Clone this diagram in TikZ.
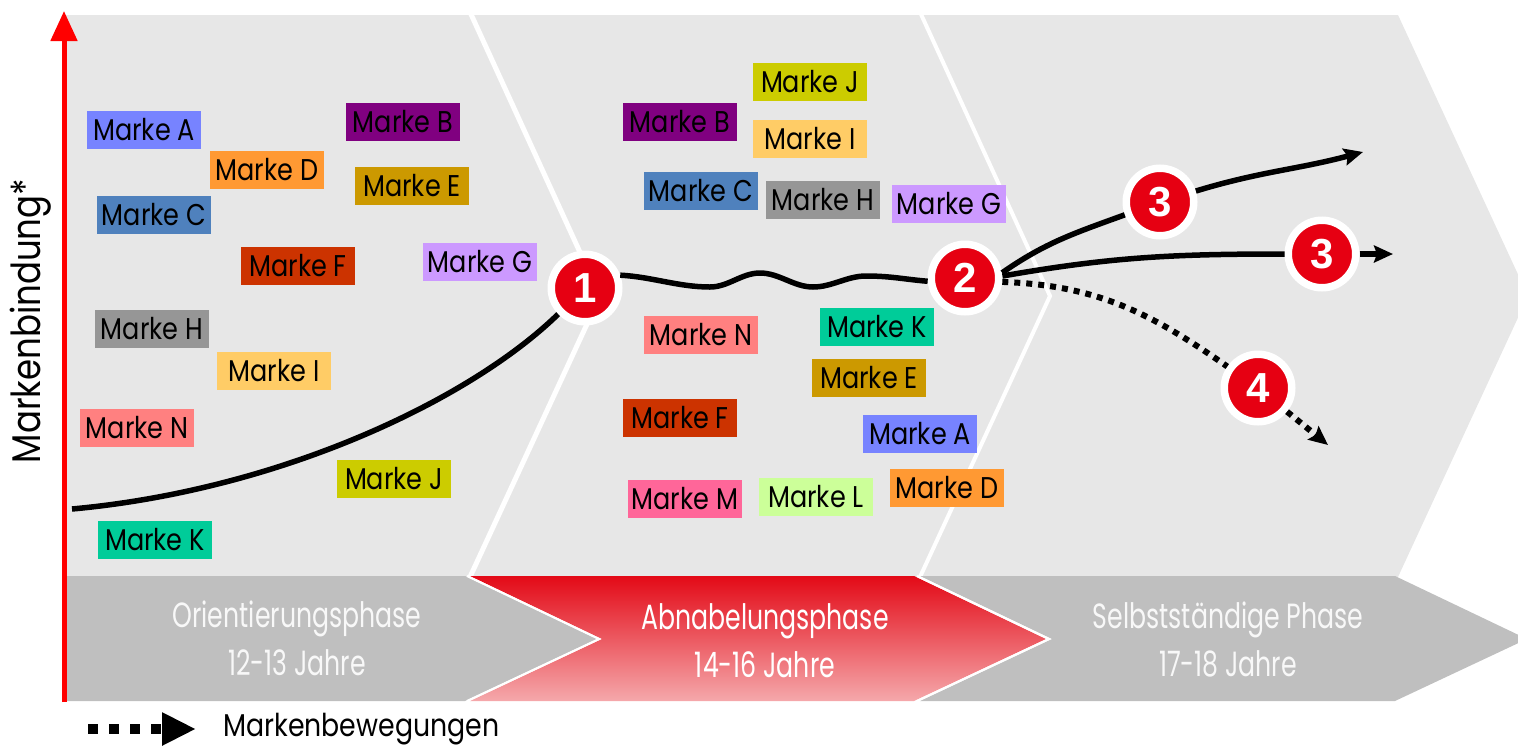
\documentclass[tikz,border=0pt]{standalone}
\usepackage{fontspec}
\setmainfont{Poppins}[FakeStretch=0.85]
\newfontfamily\phasefont{Poppins}[FakeStretch=0.72]
\newfontfamily\numfont{Liberation Sans}
\usetikzlibrary{arrows.meta}
\definecolor{cA}{HTML}{7783FF}
\definecolor{cB}{HTML}{800080}
\definecolor{cC}{HTML}{4F81BD}
\definecolor{cD}{HTML}{FF9933}
\definecolor{cE}{HTML}{CC9900}
\definecolor{cF}{HTML}{CC3300}
\definecolor{cG}{HTML}{CC99FF}
\definecolor{cH}{HTML}{969696}
\definecolor{cI}{HTML}{FFCC66}
\definecolor{cJ}{HTML}{CCCC00}
\definecolor{cK}{HTML}{00CC99}
\definecolor{cL}{HTML}{CCFF99}
\definecolor{cM}{HTML}{FF6699}
\definecolor{cN}{HTML}{FF8080}
\definecolor{circRed}{HTML}{E60012}
\definecolor{axisRed}{HTML}{FF0000}
\definecolor{bgGrey}{HTML}{E7E7E7}
\definecolor{barGrey}{HTML}{BFBFBF}
\definecolor{gradTop}{HTML}{E30A17}
\definecolor{gradBot}{HTML}{F5A8AB}
\definecolor{phaseText}{HTML}{F8F8F8}
\tikzset{
  marke/.style={minimum width=114pt, minimum height=38pt, inner sep=0pt,
    text=black, font=\fontsize{30}{32}\selectfont},
  circ/.style={circle, fill=circRed, draw=white, line width=7.5pt,
    minimum size=67.5pt, inner sep=0pt, text=white,
    font=\numfont\bfseries\fontsize{42}{42}\selectfont},
  curve/.style={line width=5.5pt, black},
  dotline/.style={line width=6pt, black, dash pattern=on 6pt off 6pt},
  tipend/.style={-{Stealth[length=19pt,width=17pt,inset=3pt]}},
  phase/.style={align=center, text=phaseText,
    font=\phasefont\fontsize{35}{48}\selectfont},
}
\begin{document}
\begin{tikzpicture}[x=1pt,y=1pt]
\useasboundingbox (0,0) rectangle (1518,-750);
% grey background chevrons
\fill[bgGrey] (62,-15) -- (1398,-15) -- (1528,-296) -- (1398,-577) -- (62,-577) -- cycle;
\draw[white, line width=5pt] (470,-12) -- (600,-296) -- (470,-577);
\draw[white, line width=4pt] (920,-12) -- (1050,-296) -- (920,-577);
% bottom bar
\fill[barGrey] (62,-576) -- (465,-576) -- (597,-639) -- (465,-701) -- (62,-701) -- cycle;
\shade[top color=gradTop, bottom color=gradBot] (470,-576) -- (914,-576) -- (1046,-639) -- (914,-701) -- (470,-701) -- (602,-639) -- cycle;
\fill[barGrey] (920,-576) -- (1395,-576) -- (1527,-639) -- (1395,-701) -- (920,-701) -- (1052,-639) -- cycle;
\draw[white, line width=2pt] (467,-576) -- (599,-639) -- (467,-701);
\draw[white, line width=2pt] (917,-576) -- (1049,-639) -- (917,-701);
\node[phase] (p1) at (297,-638) {Orientierungsphase\\12-13 Jahre};
\node[phase, text=white] (p2) at (765,-641) {Abnabelungsphase\\14-16 Jahre};
\node[phase] (p3) at (1228,-640) {Selbstständige Phase\\17-18 Jahre};
% axis
\coordinate (ax0) at (64,-702);
\coordinate (ax1) at (64,-11);
\draw[axisRed, line width=5pt, -{Triangle[length=30pt,width=26pt]}] (ax0) -- (ax1);
\node[rotate=90, font=\fontsize{40}{42}\selectfont] (ylab) at (31,-321) {Markenbindung*};
% brand boxes, left phase
\node[marke, fill=cA] (lA) at (144,-130) {Marke A};
\node[marke, fill=cB] (lB) at (403,-122) {Marke B};
\node[marke, fill=cD] (lD) at (267,-170) {Marke D};
\node[marke, fill=cE] (lE) at (412,-186) {Marke E};
\node[marke, fill=cC] (lC) at (154,-215) {Marke C};
\node[marke, fill=cF] (lF) at (298,-266) {Marke F};
\node[marke, fill=cG] (lG) at (480,-262) {Marke G};
\node[marke, fill=cH] (lH) at (152,-329) {Marke H};
\node[marke, fill=cI] (lI) at (274,-371) {Marke I};
\node[marke, fill=cN] (lN) at (137,-428) {Marke N};
\node[marke, fill=cJ] (lJ) at (394,-479) {Marke J};
\node[marke, fill=cK] (lK) at (155,-540) {Marke K};
% brand boxes, middle phase
\node[marke, fill=cJ] (mJ) at (810,-82) {Marke J};
\node[marke, fill=cB] (mB) at (680,-122) {Marke B};
\node[marke, fill=cI] (mI) at (810,-139) {Marke I};
\node[marke, fill=cC] (mC) at (701,-191) {Marke C};
\node[marke, fill=cH] (mH) at (823,-200) {Marke H};
\node[marke, fill=cG] (mG) at (949,-204) {Marke G};
\node[marke, fill=cN] (mN) at (701,-335) {Marke N};
\node[marke, fill=cK] (mK) at (877,-327) {Marke K};
\node[marke, fill=cE] (mE) at (869,-378) {Marke E};
\node[marke, fill=cF] (mF) at (680,-418) {Marke F};
\node[marke, fill=cA] (mA) at (920,-434) {Marke A};
\node[marke, fill=cD] (mD) at (947,-488) {Marke D};
\node[marke, fill=cM] (mM) at (685,-499) {Marke M};
\node[marke, fill=cL] (mL) at (816,-497) {Marke L};
% milestone circles
\node[circ] (c1) at (585,-288) {1};
\node[circ] (c2) at (965,-278) {2};
\node[circ] (c3a) at (1160,-202) {3};
\node[circ] (c3b) at (1322,-254) {3};
\node[circ] (c4) at (1258,-388) {4};
% coordinates
\coordinate (s0) at (72,-509);
\coordinate (w1) at (710,-287);
\coordinate (w2) at (760,-273);
\coordinate (w3) at (813,-287);
\coordinate (w4) at (866,-276);
\coordinate (e1) at (1363,-152);
\coordinate (e2) at (1393,-254);
\coordinate (e3) at (1328,-445);
% curves
\draw[curve] (s0) .. controls (280,-490) and (470,-400) .. (c1);
\draw[curve] (c1.20) to[out=-3,in=180,looseness=0.9] (w1) to[out=0,in=180,looseness=0.9] (w2) to[out=0,in=180,looseness=0.9] (w3) to[out=0,in=180,looseness=0.9] (w4) to[out=0,in=175] (c2.185);
\draw[curve] (c2.8) to[out=35,in=200] (c3a);
\draw[curve, tipend] (c3a) to[out=17,in=195] (e1);
\draw[curve] (c2.3) to[out=10,in=180] (c3b);
\draw[curve, tipend] (c3b) -- (e2);
\draw[dotline] (c2.-6) to[out=-2,in=145] (c4);
\draw[dotline, tipend] (c4) -- (e3);
% legend
\coordinate (l1) at (88,-729);
\coordinate (l2) at (196,-729);
\draw[line width=10pt, dash pattern=on 10pt off 11pt, -{Triangle[length=34pt,width=31pt]}] (l1) -- (l2);
\node[anchor=west, font=\fontsize{31.5}{33}\selectfont, inner sep=0pt] (legtext) at (223,-729) {Markenbewegungen};
\end{tikzpicture}
\end{document}
